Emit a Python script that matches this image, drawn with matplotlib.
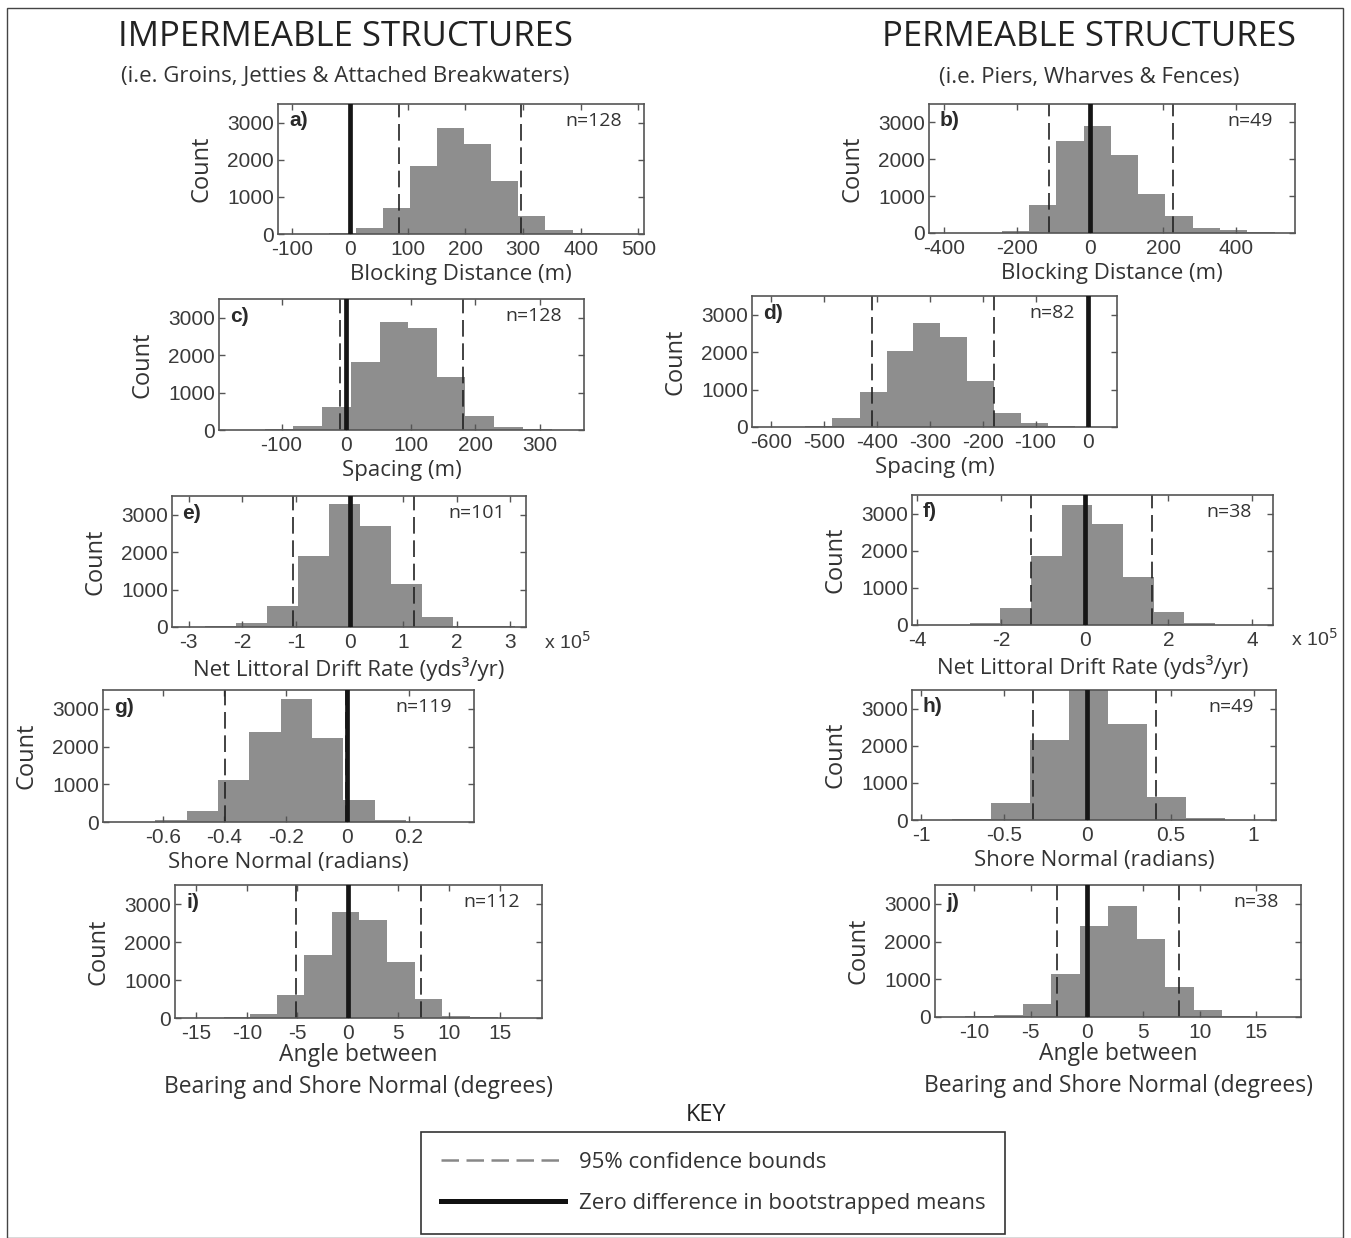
import matplotlib
matplotlib.use("Agg")
import matplotlib.pyplot as plt
from matplotlib.lines import Line2D
from matplotlib.patches import Rectangle
import numpy as np

W, H = 1351, 1238

# bootstrapped difference histograms
a_edges = [-37, 10, 57, 104, 151, 198, 245, 292, 339, 386, 433]
a_counts = [40, 170, 690, 1840, 2860, 2430, 1420, 490, 100, 30]
a_ci = [85, 297]

b_edges = [-241, -166, -92, -17, 57, 132, 206, 281, 355, 430, 505]
b_counts = [50, 770, 2500, 2890, 2120, 1070, 460, 140, 70, 30]
b_ci = [-112, 228]

c_edges = [-126, -82, -37, 7, 52, 96, 141, 185, 230, 275, 319]
c_counts = [30, 110, 625, 1810, 2880, 2720, 1410, 385, 70, 25]
c_ci = [-10, 182]

d_edges = [-535, -484, -431, -381, -331, -280, -230, -179, -128, -77, -25]
d_counts = [30, 230, 930, 2030, 2790, 2410, 1230, 380, 110, 35]
d_ci = [-409, -178]

# littoral drift in units of 10^5 yds^3/yr
e_edges = [-2.70, -2.12, -1.54, -0.96, -0.39, 0.19, 0.77, 1.35, 1.93, 2.50, 3.08]
e_counts = [25, 120, 570, 1900, 3280, 2710, 1150, 270, 30, 15]
e_ci = [-1.06, 1.21]

f_edges = [-3.48, -2.75, -2.02, -1.28, -0.55, 0.18, 0.92, 1.65, 2.38, 3.12, 3.85]
f_counts = [10, 60, 460, 1860, 3240, 2710, 1280, 340, 60, 10]
f_ci = [-1.28, 1.61]

g_edges = [-0.726, -0.624, -0.522, -0.421, -0.319, -0.217, -0.116, -0.014, 0.088, 0.189, 0.291]
g_counts = [10, 60, 300, 1110, 2390, 3270, 2230, 575, 60, 10]
g_ci = [-0.397, -0.004]

h_edges = [-0.817, -0.582, -0.347, -0.112, 0.122, 0.357, 0.592, 0.827]
h_counts = [30, 470, 2160, 3800, 2580, 620, 50]
h_ci = [-0.327, 0.412]

i_edges = [-12.3, -9.7, -7.0, -4.3, -1.6, 1.1, 3.9, 6.6, 9.3, 12.1, 14.8]
i_counts = [35, 110, 605, 1660, 2790, 2570, 1465, 500, 65, 20]
i_ci = [-5.1, 7.2]

j_edges = [-10.8, -8.25, -5.71, -3.17, -0.65, 1.89, 4.44, 6.95, 9.47, 12.0, 14.5]
j_counts = [20, 60, 340, 1135, 2410, 2930, 2080, 800, 180, 20]
j_ci = [-2.66, 8.14]

n_vals = [128, 49, 128, 82, 101, 38, 119, 49, 112, 38]
labels = ["a)", "b)", "c)", "d)", "e)", "f)", "g)", "h)", "i)", "j)"]

xlabels = ["Blocking Distance (m)", "Blocking Distance (m)",
           "Spacing (m)", "Spacing (m)",
           "Net Littoral Drift Rate (yds\u00b3/yr)", "Net Littoral Drift Rate (yds\u00b3/yr)",
           "Shore Normal (radians)", "Shore Normal (radians)",
           "Angle between\nBearing and Shore Normal (degrees)",
           "Angle between\nBearing and Shore Normal (degrees)"]

xticks = [
    [-100, 0, 100, 200, 300, 400, 500],
    [-400, -200, 0, 200, 400],
    [-100, 0, 100, 200, 300],
    [-600, -500, -400, -300, -200, -100, 0],
    [-3, -2, -1, 0, 1, 2, 3],
    [-4, -2, 0, 2, 4],
    [-0.6, -0.4, -0.2, 0, 0.2],
    [-1, -0.5, 0, 0.5, 1],
    [-15, -10, -5, 0, 5, 10, 15],
    [-10, -5, 0, 5, 10, 15],
]
xlims = [(-125, 510), (-440, 560), (-197, 369), (-636, 54), (-3.31, 3.29),
         (-4.13, 4.5), (-0.794, 0.411), (-1.056, 1.135), (-17.1, 19.2), (-13.5, 19.0)]

# axes boxes in pixels: left, top, right, bottom
boxes = [(278, 104, 644, 234), (929, 104, 1295, 233),
         (219, 299, 584, 430), (752, 296, 1117, 427),
         (172, 496, 526, 627), (912, 495, 1273, 625),
         (103, 690, 474, 822), (912, 690, 1276, 820),
         (175, 885, 542, 1018), (935, 885, 1301, 1017)]

hists = [(a_edges, a_counts, a_ci), (b_edges, b_counts, b_ci),
         (c_edges, c_counts, c_ci), (d_edges, d_counts, d_ci),
         (e_edges, e_counts, e_ci), (f_edges, f_counts, f_ci),
         (g_edges, g_counts, g_ci), (h_edges, h_counts, h_ci),
         (i_edges, i_counts, i_ci), (j_edges, j_counts, j_ci)]

LABEL_FONT = "Open Sans"
TICK_FONT = "Liberation Sans"
TICK_COL = "#3a3a3a"
BAR_COL = "#8e8e8e"

fig = plt.figure(figsize=(W / 100, H / 100), dpi=100)

for k, (edges, counts, ci) in enumerate(hists):
    l, t, r, b = boxes[k]
    ax = fig.add_axes([l / W, 1 - b / H, (r - l) / W, (b - t) / H])
    edges = np.array(edges)
    ax.bar(edges[:-1], counts, width=np.diff(edges), align="edge",
           color=BAR_COL, edgecolor="none", zorder=1)
    for c in ci:
        ax.axvline(c, color="#222222", lw=1.2, dashes=(10, 4), zorder=2)
    ax.axvline(0, color="#161616", lw=3.4, zorder=3)
    ax.set_xlim(*xlims[k])
    ax.set_ylim(0, 3500)
    ax.set_xticks(xticks[k])
    ax.set_xticklabels([f"{v:g}" for v in xticks[k]])
    ax.set_yticks([0, 1000, 2000, 3000])
    ax.tick_params(direction="in", top=True, right=True, length=4, width=1,
                   colors="#555555", labelcolor=TICK_COL, labelsize=15)
    ax.tick_params(axis="x", pad=4)
    ax.tick_params(axis="y", pad=3)
    for lab in ax.get_xticklabels() + ax.get_yticklabels():
        lab.set_family(TICK_FONT)
    for sp in ax.spines.values():
        sp.set_color("#555555")
        sp.set_linewidth(1.2)
    ax.set_ylabel("Count", family=LABEL_FONT, fontsize=17, color="#333333", labelpad=10)
    two_line = "\n" in xlabels[k]
    ax.set_xlabel(xlabels[k], family=LABEL_FONT, fontsize=16.5 if two_line else 16,
                  color="#333333", labelpad=0 if two_line else 4, linespacing=1.45)
    ax.text(0.03, 0.87, labels[k], transform=ax.transAxes, fontsize=15,
            fontweight="bold", family=TICK_FONT, color="#2a2a2a", va="center")
    n_x = 0.885 if k == 3 else 0.94
    ax.text(n_x, 0.87, f"n={n_vals[k]}", transform=ax.transAxes, fontsize=14,
            family=LABEL_FONT, color="#333333", ha="right", va="center")
    if k in (4, 5):
        ax.text(1.05, -0.11, "x 10$^5$", transform=ax.transAxes, fontsize=14,
                family=TICK_FONT, color=TICK_COL, ha="left", va="center")

fig.text(345 / W, 1 - 37 / H, "IMPERMEABLE STRUCTURES", family=LABEL_FONT,
         fontsize=25, color="#222222", ha="center", va="center")
fig.text(345 / W, 1 - 76 / H, "(i.e. Groins, Jetties & Attached Breakwaters)",
         family=LABEL_FONT, fontsize=16, color="#333333", ha="center", va="center")
fig.text(1089 / W, 1 - 37 / H, "PERMEABLE STRUCTURES", family=LABEL_FONT,
         fontsize=25, color="#222222", ha="center", va="center")
fig.text(1089 / W, 1 - 78 / H, "(i.e. Piers, Wharves & Fences)",
         family=LABEL_FONT, fontsize=16, color="#333333", ha="center", va="center")

fig.text(706 / W, 1 - 1115 / H, "KEY", family=LABEL_FONT, fontsize=17,
         color="#222222", ha="center", va="center")

handles = [Line2D([], [], color="#888888", lw=1.8, dashes=(7, 3)),
           Line2D([], [], color="#111111", lw=3.6)]
leg = fig.legend(handles, ["95% confidence bounds", "Zero difference in bootstrapped means"],
                 loc="center", bbox_to_anchor=(713 / W, 1 - 1183 / H),
                 prop={"family": LABEL_FONT, "size": 16}, handlelength=5.6,
                 handletextpad=0.6, labelspacing=0.9, borderpad=0.9,
                 fancybox=False, edgecolor="#333333", framealpha=1)
leg.get_frame().set_linewidth(1.2)
for txt in leg.get_texts():
    txt.set_color("#333333")

fig.patches.append(Rectangle((7 / W, 0), 1336 / W, 1 - 8 / H, transform=fig.transFigure,
                             fill=False, edgecolor="#444444", lw=1))

fig.savefig("out.png", dpi=100)
